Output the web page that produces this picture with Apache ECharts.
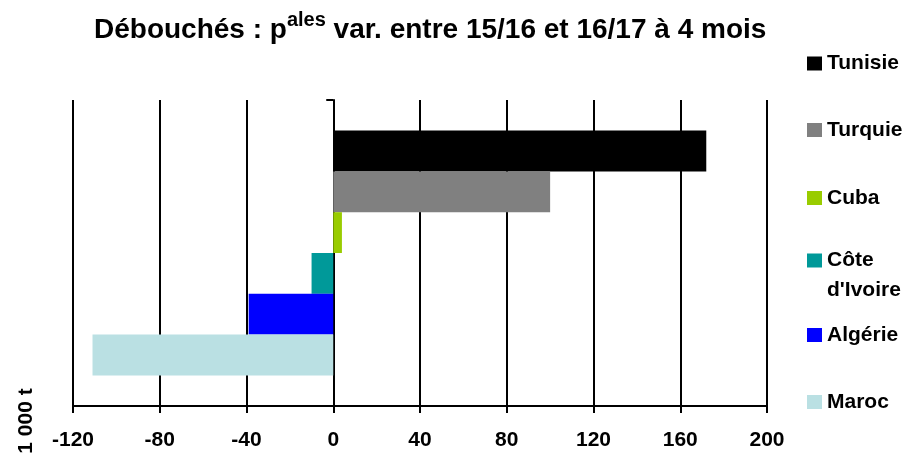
<!DOCTYPE html>
<html>
<head>
<meta charset="utf-8">
<script src="https://cdn.jsdelivr.net/npm/echarts@6/dist/echarts.min.js"></script>
<style>
  html, body { margin: 0; padding: 0; background: #fff; }
  #chart { width: 914px; height: 453px; }
</style>
</head>
<body>
<div id="chart"></div>
<script>
// Outlets: change between 15/16 and 16/17 after 4 months (1 000 t)
const countries = ['Tunisie', 'Turquie', 'Cuba', "Côte d'Ivoire", 'Algérie', 'Maroc'];
const variations = [172, 100, 4, -10, -39, -111];
const countryColors = ['#000000', '#808080', '#99CC00', '#009999', '#0000FF', '#BAE0E3'];
const periodCategory = ['4 mois'];
const axisMin = -120;
const axisMax = 200;
const axisStep = 40;

const FONT = '"Liberation Sans", Arial, sans-serif';
const chart = echarts.init(document.getElementById('chart'), null, { renderer: 'canvas' });

// one legend block per country, stacked down the right-hand side
const legendCenters = [60, 126.5, 194.5, 260.5, 331.5, 398.5];
const legends = countries.map((name, i) => {
  const twoLines = name.indexOf(' ') > 0;
  return {
    data: [name],
    orient: 'vertical',
    left: 807,
    top: twoLines ? legendCenters[i] - 7 - 38 : legendCenters[i] - 7,
    padding: 0,
    itemWidth: 15,
    itemHeight: 14,
    itemGap: 0,
    selectedMode: false,
    icon: 'rect',
    // a blank first line keeps "Côte" level with its swatch
    formatter: n => (n.indexOf(' ') > 0 ? '\n' + n.replace(' ', '\n') : n),
    textStyle: {
      fontFamily: FONT,
      fontWeight: 'bold',
      fontSize: 21,
      color: '#000',
      lineHeight: twoLines ? 30 : 14
    }
  };
});

const series = countries.map((name, i) => ({
  name: name,
  type: 'bar',
  data: [variations[i]],
  barGap: 0,
  barCategoryGap: '20%',
  itemStyle: { color: countryColors[i] },
  emphasis: { disabled: true }
}));

chart.setOption({
  animation: false,
  backgroundColor: '#fff',
  title: {
    left: 94,
    top: 10,
    padding: 0,
    text: '{m|Débouchés : p}{s|ales}{m| var. entre 15/16 et 16/17 à 4 mois}',
    textStyle: {
      rich: {
        m: { fontFamily: FONT, fontWeight: 'bold', fontSize: 28, color: '#000', lineHeight: 34, verticalAlign: 'bottom' },
        s: { fontFamily: FONT, fontWeight: 'bold', fontSize: 20, color: '#000', lineHeight: 14, verticalAlign: 'top' }
      }
    }
  },
  legend: legends,
  grid: { left: 73, right: 147, top: 100, bottom: 47, containLabel: false },
  xAxis: {
    type: 'value',
    min: axisMin,
    max: axisMax,
    interval: axisStep,
    axisLine: { show: true, lineStyle: { color: '#000', width: 2 } },
    axisTick: { show: true, length: 7, lineStyle: { color: '#000', width: 2 } },
    splitLine: { show: true, lineStyle: { color: '#000', width: 2 } },
    axisLabel: {
      margin: 24,
      fontFamily: FONT,
      fontWeight: 'bold',
      fontSize: 21,
      color: '#000'
    }
  },
  yAxis: {
    type: 'category',
    data: periodCategory,
    inverse: true,
    axisLine: { show: true, onZero: true, lineStyle: { color: '#000', width: 2 } },
    axisTick: { show: true, length: 7, lineStyle: { color: '#000', width: 2 } },
    axisLabel: { show: false },
    splitLine: { show: false }
  },
  graphic: [{
    type: 'text',
    x: 26,
    y: 421,
    rotation: Math.PI / 2,
    style: {
      text: '1 000 t',
      font: 'bold 21px ' + FONT,
      fill: '#000',
      align: 'center',
      verticalAlign: 'middle'
    }
  }],
  series: series
});
</script>
</body>
</html>
